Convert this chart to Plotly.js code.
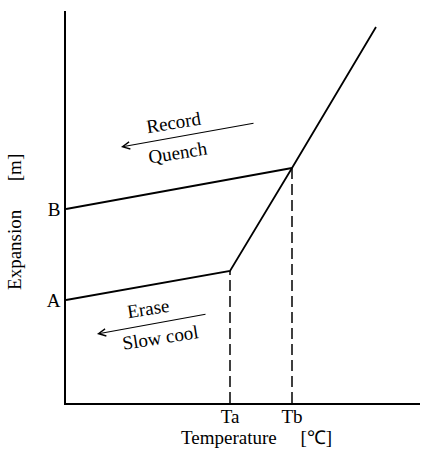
<!DOCTYPE html>
<html><head><meta charset="utf-8">
<script src="https://cdn.plot.ly/plotly-3.0.1.min.js"></script>
<style>body{margin:0;background:#fff}#chart{width:435px;height:451px}</style>
</head><body><div id="chart"></div>
<script>
// Read values (arbitrary units)
// Lower curve (erase / slow cool): A -> Ta knee -> Tb knee -> high temperature
const lowerX = [0, 164, 226, 310];
const lowerY = [103, 132, 235, 376];
// Upper curve (record / quench): B -> Tb knee
const upperX = [0, 226];
const upperY = [194, 235];
// Dashed guides
const guideTaX = [164, 164], guideTaY = [0, 132];
const guideTbX = [226, 226], guideTbY = [0, 235];
const xTickVals = [164, 226], xTickText = ['Ta', 'Tb'];
const yTickVals = [103, 194], yTickText = ['A', 'B'];
// Arrows: [tailX, tailY, headX, headY]
const recordArrow = [189, 280, 55, 256];
const eraseArrow = [141, 89, 31, 69];

const font = {family: '"Liberation Serif", "Times New Roman", serif', color: '#000', size: 19};
const lineStyle = {color: '#000', width: 1.8};

const traces = [
  {x: lowerX, y: lowerY, mode: 'lines', line: lineStyle, hoverinfo: 'skip'},
  {x: upperX, y: upperY, mode: 'lines', line: lineStyle, hoverinfo: 'skip'},
  {x: guideTaX, y: guideTaY, mode: 'lines', line: {color: '#000', width: 1.5, dash: '11px,5px'}, hoverinfo: 'skip'},
  {x: guideTbX, y: guideTbY, mode: 'lines', line: {color: '#000', width: 1.5, dash: '11px,5px'}, hoverinfo: 'skip'}
];

function arrow(a) {
  return {x: a[2], y: a[3], ax: a[0], ay: a[1], xref: 'x', yref: 'y', axref: 'x', ayref: 'y',
    text: '', showarrow: true, arrowhead: 5, arrowsize: 1.3, arrowwidth: 1.1, arrowcolor: '#000'};
}
function label(t, x, y, ang) {
  return {x: x, y: y, xref: 'x', yref: 'y', text: t, showarrow: false, textangle: ang, font: font};
}

const layout = {
  width: 435, height: 451,
  margin: {l: 66, r: 15, t: 11, b: 48},
  paper_bgcolor: '#fff', plot_bgcolor: '#fff',
  showlegend: false,
  font: font,
  xaxis: {range: [0, 354], showline: true, linecolor: '#000', linewidth: 1.8, showgrid: false, zeroline: false,
    tickvals: xTickVals, ticktext: xTickText, ticks: '', tickfont: font, ticklabelstandoff: -5},
  yaxis: {range: [0, 392], showline: true, linecolor: '#000', linewidth: 1.8, showgrid: false, zeroline: false,
    tickvals: yTickVals, ticktext: yTickText, ticks: '', tickfont: font},
  annotations: [
    arrow(recordArrow), arrow(eraseArrow),
    label('Record', 107, 281, -9), label('Quench', 112, 251, -9),
    label('Erase', 82, 95, -9), label('Slow cool', 94, 66, -9),
    {x: 0.537, y: -0.087, xref: 'paper', yref: 'paper', xanchor: 'center', yanchor: 'middle',
     showarrow: false, font: font, text: 'Temperature&nbsp;&nbsp;&nbsp;&nbsp;&nbsp;[\u2103]'},
    {x: -0.144, y: 0.462, xref: 'paper', yref: 'paper', xanchor: 'center', yanchor: 'middle',
     showarrow: false, font: font, textangle: -90, text: 'Expansion&nbsp;&nbsp;&nbsp;&nbsp;&nbsp;&nbsp;[m]'}
  ]
};
Plotly.newPlot('chart', traces, layout, {displayModeBar: false, staticPlot: true});
</script></body></html>
